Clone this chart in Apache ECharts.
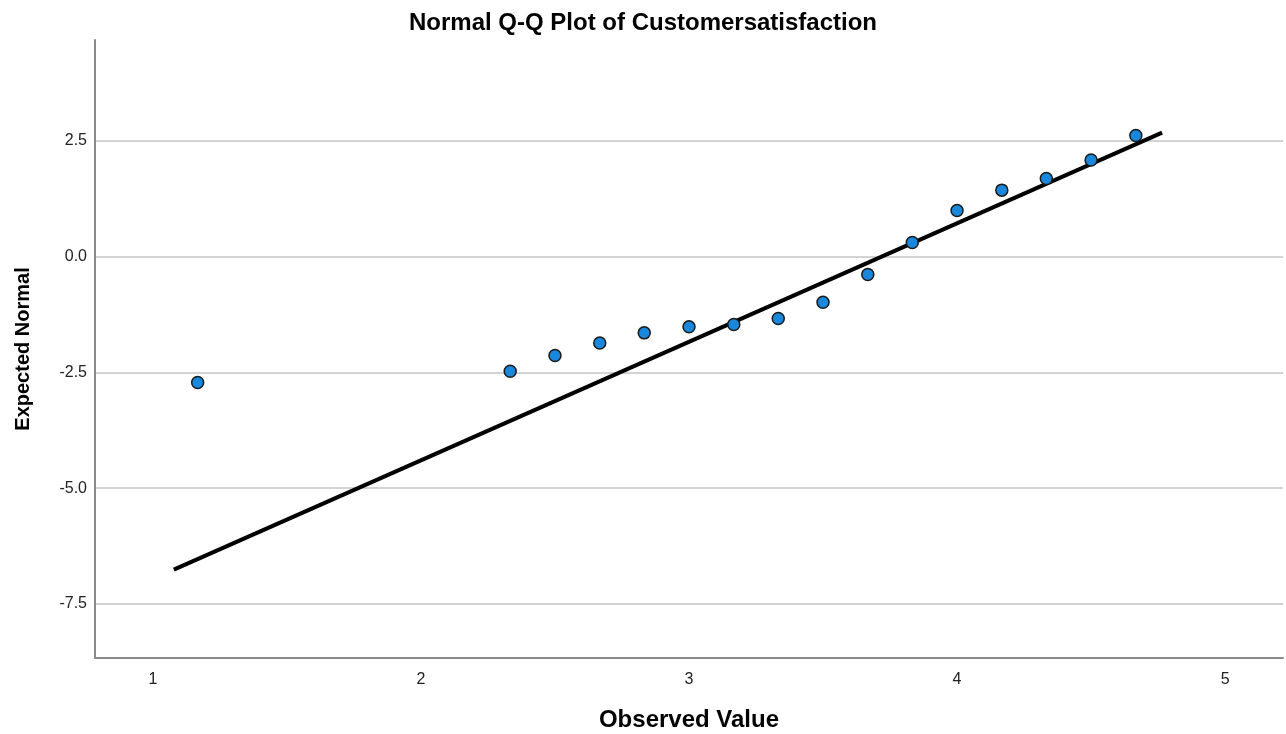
<!DOCTYPE html>
<html>
<head>
<meta charset="utf-8">
<script src="https://cdn.jsdelivr.net/npm/echarts@6/dist/echarts.min.js"></script>
<style>
  html, body { margin: 0; padding: 0; background: #fff; }
  #chart { width: 1286px; height: 734px; }
</style>
</head>
<body>
<div id="chart"></div>
<script>
// observed values (x) and expected normal (y)
var observed = [1.167, 2.333, 2.5, 2.667, 2.833, 3.0, 3.167, 3.333, 3.5, 3.667, 3.833, 4.0, 4.167, 4.333, 4.5, 4.667];
var expected = [-2.72, -2.48, -2.14, -1.87, -1.65, -1.52, -1.47, -1.34, -0.99, -0.39, 0.30, 0.99, 1.43, 1.68, 2.08, 2.61];
// reference line end points
var lineX = [1.078, 4.765];
var lineY = [-6.76, 2.67];
var xTicks = [1, 2, 3, 4, 5];
var yTicks = [2.5, 0, -2.5, -5, -7.5];

var myChart = echarts.init(document.getElementById('chart'));

var pts = observed.map(function (x, i) { return [x, expected[i]]; });
var linePts = lineX.map(function (x, i) { return [x, lineY[i]]; });

var font = 'Arial, "Liberation Sans", sans-serif';

var option = {
    animation: false,
    backgroundColor: '#fff',
    title: {
        text: 'Normal Q-Q Plot of Customersatisfaction',
        left: 'center',
        top: 6,
        textStyle: { fontFamily: font, fontSize: 24, fontWeight: 'bold', color: '#000' }
    },
    grid: { left: 95, right: 3, top: 40, bottom: 76, outerBoundsMode: 'none' },
    xAxis: {
        type: 'value',
        min: 0.784,
        max: 5.216,
        name: 'Observed Value',
        nameLocation: 'middle',
        nameGap: 50,
        nameTextStyle: { fontFamily: font, fontSize: 24, fontWeight: 'bold', color: '#000' },
        axisLine: { show: true, onZero: false, lineStyle: { color: '#8a8a8a', width: 2 } },
        axisTick: { show: false, customValues: xTicks },
        axisLabel: {
            customValues: xTicks,
            margin: 14,
            fontFamily: font, fontSize: 16, color: '#222'
        },
        splitLine: { show: false }
    },
    yAxis: {
        type: 'value',
        min: -8.666,
        max: 4.67,
        name: 'Expected Normal',
        nameLocation: 'middle',
        nameGap: 62,
        nameTextStyle: { fontFamily: font, fontSize: 20, fontWeight: 'bold', color: '#000' },
        axisLine: { show: true, onZero: false, lineStyle: { color: '#8a8a8a', width: 2 } },
        axisTick: { show: false, customValues: yTicks },
        axisLabel: {
            customValues: yTicks,
            margin: 8,
            fontFamily: font, fontSize: 16, color: '#222',
            formatter: function (v) { return v.toFixed(1); }
        },
        splitLine: { show: true, lineStyle: { color: '#c4c4c4', width: 1.5 } }
    },
    series: [
        {
            type: 'line',
            data: linePts,
            showSymbol: false,
            symbol: 'none',
            lineStyle: { color: '#000', width: 4 },
            z: 2
        },
        {
            type: 'scatter',
            data: pts,
            symbol: 'circle',
            symbolSize: 12,
            itemStyle: { color: '#1987dc', opacity: 1, borderColor: '#1a1a1a', borderWidth: 1.5 },
            z: 3
        }
    ]
};
myChart.setOption(option);
</script>
</body>
</html>
